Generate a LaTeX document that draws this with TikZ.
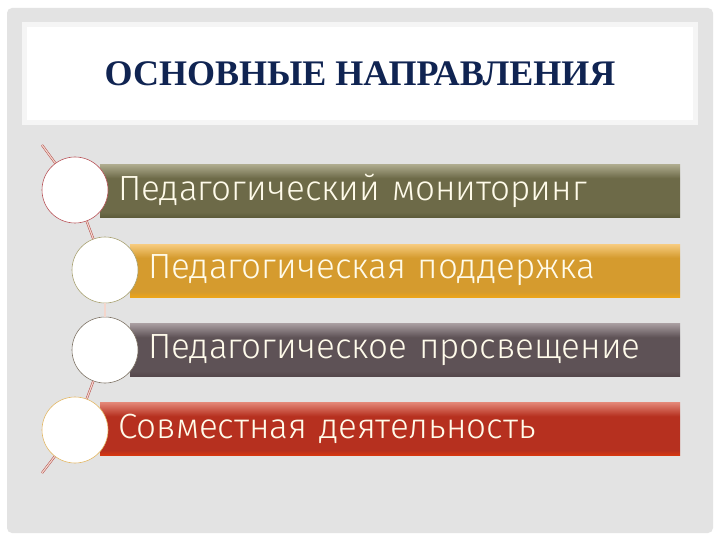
\documentclass[tikz,border=0pt]{standalone}
\usepackage{fontspec}
\setmainfont{Liberation Serif}
\newfontfamily\barfont{Fira Sans Light}
\usetikzlibrary{shapes.geometric}
\definecolor{panelGrey}{HTML}{E3E3E3}
\definecolor{titleEdge}{HTML}{F5F5F5}
\definecolor{titleBlue}{HTML}{102452}
\definecolor{barText}{HTML}{FFFBEA}
\definecolor{chainRed}{HTML}{B24A48}
\definecolor{chainFill}{HTML}{F4D6CC}

\begin{document}
\begin{tikzpicture}
[x=1pt,y=-1pt,
  barDecorate/.style={shape=rectangle,anchor=west,minimum height=53pt,
    inner xsep=18pt,align=left,text=barText,
    font=\barfont\fontsize{35}{35}\selectfont},%
  ringDecorate/.style={shape=circle,minimum size=66pt,inner sep=0pt,
    fill=white,draw,line width=0.6pt},%
  chainDecorate/.style={-,draw=chainRed,double=chainFill,
    double distance=1.2pt,line width=0.5pt}]
\useasboundingbox (0,0) rectangle (720,540);
%% background and title
\fill[white] (0,0) rectangle (720,540);
\fill[panelGrey,rounded corners=5pt] (7,8) rectangle (713,533);
\fill[titleEdge] (22,22) rectangle (698,125);
\fill[white] (27,27) rectangle (693,120);
\node (title) at (360,74) [text=titleBlue,font=\bfseries\fontsize{36}{36}\selectfont]
  {ОСНОВНЫЕ НАПРАВЛЕНИЯ};
%% bars
\foreach \barname/\x/\y/\w/\topc/\midc/\botc/\label in {
  monitor/100/191/580/AEAB8E/6D6A48/5C5A3A/Педагогический мониторинг,
  support/130/270.5/550/F7CC80/D59B2E/EBA51A/Педагогическая поддержка,
  enlight/130/350/550/A89DA0/5E5256/54474B/Педагогическое просвещение,
  joint/100/429/580/E38676/B6301F/D8380F/Совместная деятельность} {
  \definecolor{tc}{HTML}{\topc}
  \definecolor{mc}{HTML}{\midc}
  \definecolor{bc}{HTML}{\botc}
  \pgfdeclareverticalshading{\barname}{100bp}{color(0bp)=(bc); color(25bp)=(bc);
    color(30bp)=(mc); color(62bp)=(mc); color(75bp)=(tc); color(100bp)=(tc)}
  \node (\barname) at (\x,\y) [barDecorate,minimum width=\w pt,
    text width=\w pt-36pt,shading=\barname] {\label};
}
%% rings
\foreach \ringname/\x/\y/\edge in {r1/75/190/B9555A, r2/105/270/A9A272,
  r3/105/350/7F7466, r4/75/430/E3B866} {
  \definecolor{ec}{HTML}{\edge}
  \node (\ringname) at (\x,\y) [ringDecorate,draw=ec] {};
}
%% chain
\coordinate (start) at (42,145);
\coordinate (stop) at (42,473);
\path
\foreach \startnode/\endnode in {start/r1, r1/r2, r2/r3, r3/r4, r4/stop} {
  (\startnode) edge[chainDecorate] (\endnode)
};
\end{tikzpicture}
\end{document}
